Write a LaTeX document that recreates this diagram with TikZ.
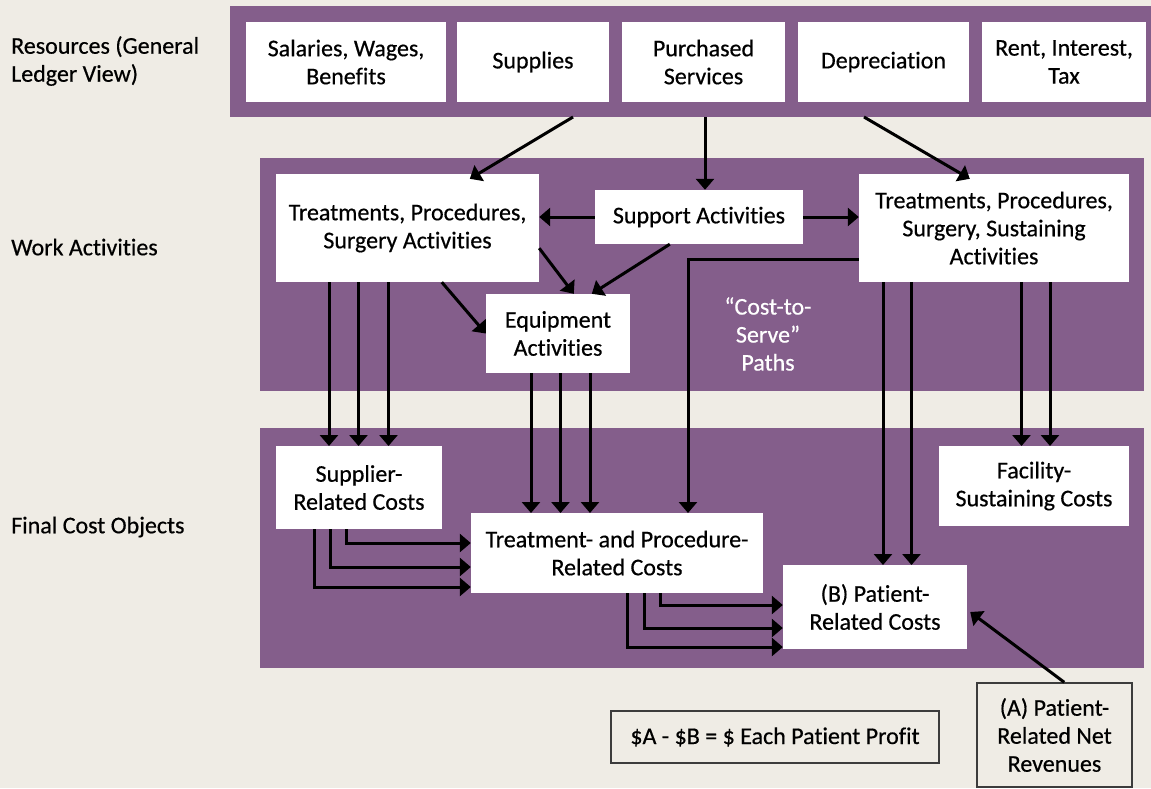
\documentclass[tikz,border=0pt]{standalone}
\usepackage{fontspec}
\setmainfont[Ligatures={NoCommon},FakeBold=0.5]{Carlito}
\usetikzlibrary{arrows.meta,calc}
\definecolor{bgc}{RGB}{239,236,229}
\definecolor{purp}{RGB}{132,94,139}
\definecolor{edge}{RGB}{60,60,60}
\begin{document}
\begin{tikzpicture}[x=1pt,y=-1pt,
  font=\fontsize{24}{28}\selectfont,
  band/.style={fill=purp,inner sep=0pt},
  wbox/.style={fill=white,inner sep=0pt,align=center},
  obox/.style={draw=edge,line width=1.5pt,fill=bgc,inner sep=0pt,align=center},
  lab/.style={anchor=west,align=left,inner sep=0pt},
  arr/.style={line width=3pt,-{Triangle[length=11pt,width=18pt]}}]
\fill[bgc] (0,0) rectangle (1151,788);
\useasboundingbox (0,0) rectangle (1151,788);
% bands
\node[band,minimum width=921,minimum height=111] (band1) at (690.5,61.5) {};
\node[band,minimum width=884,minimum height=233] (band2) at (702,274.5) {};
\node[band,minimum width=884,minimum height=240] (band3) at (702,548) {};
% left labels
\node[lab] (l1) at (11,61) {Resources (General\\Ledger View)};
\node[lab] (l2) at (11,247) {Work Activities};
\node[lab] (l3) at (11,527) {Final Cost Objects};
% resource boxes
\node[wbox,minimum width=200,minimum height=80] (sal) at (346,62) {Salaries, Wages,\\Benefits};
\node[wbox,minimum width=152,minimum height=80] (sup) at (533,62) {Supplies};
\node[wbox,minimum width=163,minimum height=80] (pur) at (703.5,62) {Purchased\\Services};
\node[wbox,minimum width=171,minimum height=80] (dep) at (883.5,62) {Depreciation};
\node[wbox,minimum width=164,minimum height=80] (rent) at (1064,62) {Rent, Interest,\\Tax};
% work activities
\node[wbox,minimum width=263,minimum height=108] (tl) at (407.5,228) {Treatments, Procedures,\\Surgery Activities};
\node[wbox,minimum width=208,minimum height=54] (sa) at (699,217) {Support Activities};
\node[wbox,minimum width=270,minimum height=108] (tr) at (994,228) {Treatments, Procedures,\\Surgery, Sustaining\\Activities};
\node[wbox,minimum width=144,minimum height=79] (eq) at (558,333.5) {Equipment\\Activities};
\node[align=center,text=white,inner sep=0pt] (cts) at (768,334) {“Cost-to-\\Serve”\\Paths};
% final cost objects
\node[wbox,minimum width=166,minimum height=83] (sr) at (359,487.5) {Supplier-\\Related Costs};
\node[wbox,minimum width=292,minimum height=80] (tp) at (617,553) {Treatment- and Procedure-\\Related Costs};
\node[wbox,minimum width=190,minimum height=80] (fac) at (1034,486) {Facility-\\Sustaining Costs};
\node[wbox,minimum width=184,minimum height=84] (pat) at (875,607) {(B) Patient-\\Related Costs};
\node[obox,minimum width=328,minimum height=52] (profit) at (775,737) {\$A - \$B = \$ Each Patient Profit};
\node[obox,minimum width=155,minimum height=104] (rev) at (1054.5,735) {(A) Patient-\\Related Net\\Revenues};
% coordinates
\coordinate (a1) at (573,117);
\coordinate (a2) at (705,117);
\coordinate (a3) at (864,117);
\coordinate (sr1) at (329,446);
\coordinate (sr2) at (358.5,446);
\coordinate (sr3) at (388.5,446);
\coordinate (tp1) at (531,513);
\coordinate (tp2) at (560.5,513);
\coordinate (tp3) at (590,513);
\coordinate (tp4) at (688,513);
\coordinate (pa1) at (883,565);
\coordinate (pa2) at (911.5,565);
\coordinate (fa1) at (1021.5,446);
\coordinate (fa2) at (1050,446);
\coordinate (e1) at (346,543);
\coordinate (e2) at (330,567);
\coordinate (e3) at (314,587);
\coordinate (f1) at (660,605);
\coordinate (f2) at (644,628);
\coordinate (f3) at (627,647);
% arrows
\draw[arr] (a1) -- ($(tl.north west)+(194,5)$);
\draw[arr] (a2) -- (a2 |- sa.north);
\draw[arr] (a3) -- ($(tr.north west)+(111,5)$);
\draw[arr] (sa.west) -- (tl.east |- sa.west);
\draw[arr] (sa.east) -- (tr.west |- sa.east);
\draw[arr] ($(sa.south west)+(75,0)$) -- ($(eq.north west)+(106,0)$);
\draw[arr] ($(tl.south east)+(0,-34)$) -- ($(eq.north west)+(88,0)$);
\draw[arr] ($(tl.south west)+(166,0)$) -- (eq.west);
\foreach \c in {sr1,sr2,sr3} \draw[arr] (\c |- tl.south) -- (\c);
\foreach \c in {tp1,tp2,tp3} \draw[arr] (\c |- eq.south) -- (\c);
\draw[arr] ($(tr.south west)+(0,-23)$) -| (tp4);
\foreach \c in {pa1,pa2} \draw[arr] (\c |- tr.south) -- (\c);
\foreach \c in {fa1,fa2} \draw[arr] (\c |- tr.south) -- (\c);
\foreach \c in {e1,e2,e3} \draw[arr] (\c |- sr.south) |- (\c -| tp.west);
\foreach \c in {f1,f2,f3} \draw[arr] (\c |- tp.south) |- (\c -| pat.west);
\draw[arr] ($(rev.north west)+(88,0)$) -- ($(pat.east)+(3,5)$);
\end{tikzpicture}
\end{document}
